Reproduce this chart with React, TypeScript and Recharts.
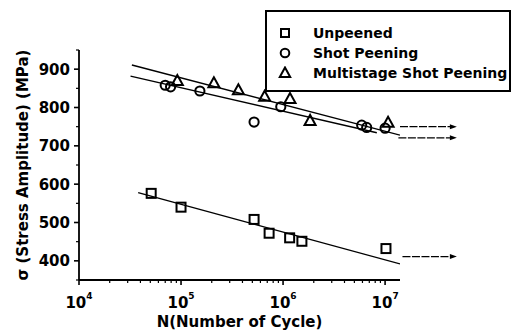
import { ComposedChart, Line, ReferenceLine, Scatter, XAxis, YAxis } from "recharts";

const FONT = "'DejaVu Sans', sans-serif";

const unpeened = [
  { x: 5.1e4, y: 576 },
  { x: 1.0e5, y: 540 },
  { x: 5.2e5, y: 508 },
  { x: 7.3e5, y: 472 },
  { x: 1.16e6, y: 460 },
  { x: 1.53e6, y: 451 },
  { x: 1.02e7, y: 432 },
];

const shotPeening = [
  { x: 7.0e4, y: 858 },
  { x: 7.9e4, y: 854 },
  { x: 1.53e5, y: 843 },
  { x: 5.2e5, y: 762 },
  { x: 9.5e5, y: 802 },
  { x: 5.9e6, y: 754 },
  { x: 6.6e6, y: 748 },
  { x: 1.0e7, y: 746 },
];

const multistage = [
  { x: 9.2e4, y: 869 },
  { x: 2.1e5, y: 863 },
  { x: 3.65e5, y: 845 },
  { x: 6.6e5, y: 828 },
  { x: 1.17e6, y: 822 },
  { x: 1.84e6, y: 765 },
  { x: 1.07e7, y: 760 },
];

// fitted S-N lines
const unpeenedFit = [
  { x: 3.8e4, y: 578 },
  { x: 1.4e7, y: 392 },
];
const shotFit = [
  { x: 3.2e4, y: 882 },
  { x: 8.3e6, y: 734 },
];
const multistageFit = [
  { x: 3.3e4, y: 911 },
  { x: 1.4e7, y: 728 },
];

// run-out arrows
const runouts = [
  { from: 1.4e7, to: 5.05e7, y: 750 },
  { from: 1.35e7, to: 5.05e7, y: 721 },
  { from: 1.48e7, to: 5.05e7, y: 411 },
];

const xMajorTicks = [1e4, 1e5, 1e6, 1e7];
const xTicks = [
  1e4, 2e4, 3e4, 4e4, 5e4, 6e4, 7e4, 8e4, 9e4,
  1e5, 2e5, 3e5, 4e5, 5e5, 6e5, 7e5, 8e5, 9e5,
  1e6, 2e6, 3e6, 4e6, 5e6, 6e6, 7e6, 8e6, 9e6,
  1e7,
];
const yMajorTicks = [400, 500, 600, 700, 800, 900];
const yTicks = [350, 400, 450, 500, 550, 600, 650, 700, 750, 800, 850, 900, 950];

const legendItems = [
  { name: "Unpeened", shape: "square" },
  { name: "Shot Peening", shape: "circle" },
  { name: "Multistage Shot Peening", shape: "triangle" },
];

const SquareMark = ({ cx, cy }: any) => (
  <rect x={cx - 4.5} y={cy - 4.5} width={9} height={9} fill="none" stroke="#000" strokeWidth={2} />
);
const CircleMark = ({ cx, cy }: any) => (
  <circle cx={cx} cy={cy} r={4.6} fill="none" stroke="#000" strokeWidth={2} />
);
const TriangleMark = ({ cx, cy }: any) => (
  <polygon
    points={`${cx},${cy - 6} ${cx - 5.5},${cy + 4} ${cx + 5.5},${cy + 4}`}
    fill="none"
    stroke="#000"
    strokeWidth={2}
    strokeLinejoin="miter"
  />
);

const XTick = ({ x, y, payload }: any) => {
  const major = xMajorTicks.includes(payload.value);
  return (
    <g>
      <line x1={x} y1={y} x2={x} y2={y + (major ? 5 : 3)} stroke="#000" strokeWidth={major ? 1.6 : 1.2} />
      {major && (
        <text x={x} y={y + 28} textAnchor="middle" fontFamily={FONT} fontWeight="bold" fontSize={15} fill="#000">
          <tspan>10</tspan>
          <tspan dy={-9} fontSize={9}>
            {Math.round(Math.log10(payload.value))}
          </tspan>
        </text>
      )}
    </g>
  );
};

const YTick = ({ x, y, payload }: any) => {
  const major = yMajorTicks.includes(payload.value);
  return (
    <g>
      <line x1={x} y1={y} x2={x - (major ? 5 : 3)} y2={y} stroke="#000" strokeWidth={major ? 1.6 : 1.2} />
      {major && (
        <text x={x - 9} y={y} dy="0.36em" textAnchor="end" fontFamily={FONT} fontWeight="bold" fontSize={15} fill="#000">
          {payload.value}
        </text>
      )}
    </g>
  );
};

const RunoutArrow = ({ x1, y1, x2, y2 }: any) => (
  <g>
    <line x1={x1} y1={y1} x2={x2 - 6} y2={y2} stroke="#000" strokeWidth={1.2} strokeDasharray="8 1.5" />
    <polygon points={`${x2},${y2} ${x2 - 7},${y2 - 2.5} ${x2 - 7},${y2 + 2.5}`} fill="#000" />
  </g>
);

const LegendIcon = ({ shape }: { shape: string }) => (
  <svg width={14} height={14} style={{ display: "block" }}>
    {shape === "square" && <rect x={3} y={3} width={8} height={8} fill="none" stroke="#000" strokeWidth={2} />}
    {shape === "circle" && <circle cx={7} cy={7} r={4.3} fill="none" stroke="#000" strokeWidth={2} />}
    {shape === "triangle" && <polygon points="7,1.5 1.8,11 12.2,11" fill="none" stroke="#000" strokeWidth={2} />}
  </svg>
);

export default function App() {
  return (
    <div style={{ position: "absolute", left: 0, top: 0, width: 511, height: 331, background: "#fff" }}>
      <ComposedChart width={511} height={331} margin={{ top: 50, right: 111, bottom: 0, left: 0 }}>
        <XAxis
          dataKey="x"
          type="number"
          scale="log"
          domain={[1e4, 1.4e7]}
          allowDataOverflow
          ticks={xTicks}
          interval={0}
          tick={<XTick />}
          tickLine={false}
          tickSize={0}
          tickMargin={0}
          height={51}
          axisLine={{ stroke: "#000", strokeWidth: 1.8 }}
          label={{
            value: "N(Number of Cycle)",
            position: "insideBottom",
            offset: 4,
            fontFamily: FONT,
            fontWeight: "bold",
            fontSize: 15,
            fill: "#000",
          }}
        />
        <YAxis
          dataKey="y"
          type="number"
          domain={[350, 950]}
          allowDataOverflow
          ticks={yTicks}
          interval={0}
          tick={<YTick />}
          tickLine={false}
          tickSize={0}
          tickMargin={0}
          width={79}
          axisLine={{ stroke: "#000", strokeWidth: 1.8 }}
          label={{
            content: ({ viewBox }: any) => {
              const cx = viewBox.x + 23;
              const cy = viewBox.y + viewBox.height / 2;
              return (
                <text
                  x={cx}
                  y={cy}
                  transform={`rotate(-90, ${cx}, ${cy})`}
                  textAnchor="middle"
                  dominantBaseline="central"
                  fontFamily={FONT}
                  fontWeight="bold"
                  fontSize={15}
                  fill="#000"
                >
                  σ (Stress Amplitude) (MPa)
                </text>
              );
            },
          }}
        />

        <Line data={unpeenedFit} dataKey="y" stroke="#000" strokeWidth={1.4} dot={false} isAnimationActive={false} />
        <Line data={shotFit} dataKey="y" stroke="#000" strokeWidth={1.4} dot={false} isAnimationActive={false} />
        <Line data={multistageFit} dataKey="y" stroke="#000" strokeWidth={1.4} dot={false} isAnimationActive={false} />

        <Scatter data={unpeened} shape={<SquareMark />} isAnimationActive={false} />
        <Scatter data={shotPeening} shape={<CircleMark />} isAnimationActive={false} />
        <Scatter data={multistage} shape={<TriangleMark />} isAnimationActive={false} />

        {runouts.map((r, i) => (
          <ReferenceLine
            key={i}
            segment={[
              { x: r.from, y: r.y },
              { x: r.to, y: r.y },
            ]}
            ifOverflow="visible"
            shape={<RunoutArrow />}
          />
        ))}
      </ComposedChart>

      <div
        style={{
          position: "absolute",
          left: 265,
          top: 10,
          width: 246,
          height: 82,
          boxSizing: "border-box",
          border: "2.5px solid #000",
          background: "#fff",
          paddingTop: 11,
          paddingLeft: 11,
        }}
      >
        {legendItems.map((item) => (
          <div key={item.name} style={{ display: "flex", alignItems: "center", height: 20 }}>
            <LegendIcon shape={item.shape} />
            <span
              style={{
                marginLeft: 21,
                fontFamily: FONT,
                fontWeight: "bold",
                fontSize: 14,
                lineHeight: "20px",
                color: "#000",
                whiteSpace: "nowrap",
              }}
            >
              {item.name}
            </span>
          </div>
        ))}
      </div>
    </div>
  );
}
